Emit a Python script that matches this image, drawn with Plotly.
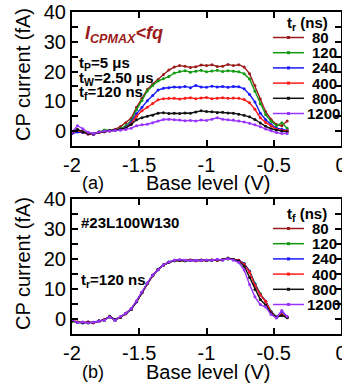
import plotly.graph_objects as go

# ---------------- data ----------------
X = [-2.00, -1.96, -1.92, -1.88, -1.84, -1.80, -1.76, -1.72, -1.68, -1.64,
     -1.60, -1.56, -1.52, -1.48, -1.44, -1.40, -1.36, -1.32, -1.28, -1.24,
     -1.20, -1.16, -1.12, -1.08, -1.04, -1.00, -0.96, -0.92, -0.88, -0.84,
     -0.80, -0.76, -0.72, -0.68, -0.64, -0.60, -0.56, -0.52, -0.48, -0.44,
     -0.40]

SERIES_NAMES = ["80", "120", "240", "400", "800", "1200"]
COLORS = ["#9b1b1b", "#119911", "#1a1aff", "#ff1a1a", "#111111", "#9933ff"]

# (a) rise time varied, tf = 120 ns
TOP_80 = [-0.8, 0.3, -0.2, -0.9, -1.0, -0.3, 0.0, 0.2, 0.6, 1.5,
          2.8, 4.3, 8.0, 11.0, 14.0, 15.8, 17.3, 19.0, 20.5, 21.5,
          22.0, 21.8, 21.4, 21.6, 22.2, 22.0, 22.3, 21.7, 21.8, 22.4,
          22.0, 22.3, 21.5, 19.3, 15.3, 10.8, 6.5, 3.9, 2.2, 1.8,
          3.4]
TOP_120 = [-0.5, 0.0, -0.3, -0.8, -1.0, -0.2, 0.4, 0.3, 0.2, 0.8,
           1.8, 3.5, 7.2, 10.3, 13.5, 15.3, 16.8, 17.6, 18.3, 19.5,
           20.0, 20.3, 19.8, 20.1, 20.4, 19.9, 20.2, 20.4, 20.0, 20.3,
           20.1, 19.9, 19.3, 17.5, 13.4, 9.2, 5.5, 3.3, 1.8, 2.8,
           1.0]
TOP_240 = [-0.8, -0.3, -0.5, -1.0, -1.1, -0.4, -0.1, 0.1, 0.2, 0.5,
           1.2, 3.0, 5.8, 8.0, 10.2, 12.0, 13.8, 14.4, 14.6, 14.8,
           14.7, 15.0, 14.6, 15.3, 14.8, 14.7, 15.1, 14.8, 15.0, 14.7,
           15.0, 14.9, 14.2, 12.3, 9.8, 6.0, 3.8, 2.2, 1.0, 0.6,
           0.2]
TOP_400 = [-0.5, 0.2, -0.3, -1.0, -1.0, -0.5, -0.2, 0.0, 0.2, 0.5,
           1.0, 2.5, 5.0, 6.8, 8.0, 9.3, 10.5, 10.9, 11.0, 11.0,
           10.8, 11.0, 11.2, 10.9, 11.1, 11.3, 10.9, 11.0, 11.2, 11.0,
           11.1, 11.0, 10.6, 9.5, 7.3, 4.5, 2.9, 1.8, 0.6, 0.2,
           0.1]
TOP_800 = [-0.3, 0.6, -0.2, -0.8, -0.9, -0.4, -0.2, 0.1, 0.3, 0.6,
           1.0, 2.2, 3.8, 4.5, 5.0, 5.3, 6.0, 6.2, 5.9, 6.0,
           5.9, 6.1, 6.0, 6.4, 6.8, 6.6, 6.5, 6.2, 6.3, 6.1,
           6.0, 5.7, 5.3, 4.8, 3.9, 2.7, 1.6, 0.8, 0.3, 0.0,
           -0.2]
TOP_1200 = [-0.3, 1.8, 0.8, -0.4, -0.8, -0.3, 0.0, 0.0, 0.2, 0.3,
            0.5, 1.0, 1.8, 2.1, 2.3, 2.8, 3.4, 3.9, 4.0, 3.8,
            3.7, 3.5, 3.6, 3.4, 3.7, 3.6, 4.0, 4.5, 4.0, 3.8,
            3.7, 3.4, 3.1, 2.6, 2.1, 1.5, 0.7, 0.1, -0.5, -0.8,
            -0.8]

# (b) fall time varied, tr = 120 ns
BOT_80 = [-0.6, -1.0, -1.2, -1.1, -1.2, -0.7, -0.3, 0.7, -0.3, 0.6,
          1.7, 3.2, 5.8, 8.8, 11.8, 14.5, 16.5, 18.0, 18.9, 19.5,
          19.6, 19.5, 19.7, 19.4, 19.6, 19.5, 19.7, 19.6, 19.8, 20.1,
          19.8, 19.6, 18.4, 15.8, 11.6, 8.3, 5.9, 2.4, 0.7, 1.4,
          0.5]
BOT_120 = [-0.8, -1.2, -1.1, -1.3, -1.1, -0.8, -0.4, 0.6, -0.4, 0.5,
           1.8, 3.3, 5.9, 8.7, 12.0, 14.4, 16.6, 17.9, 19.0, 19.4,
           19.5, 19.3, 19.6, 19.5, 19.4, 19.6, 19.5, 19.7, 19.7, 20.0,
           19.9, 19.5, 18.5, 16.0, 11.8, 8.4, 5.8, 2.5, 0.8, 1.3,
           0.6]
BOT_240 = [-0.5, -1.1, -1.3, -1.0, -1.2, -0.6, -0.3, 0.8, -0.2, 0.7,
           1.8, 3.4, 5.7, 8.9, 11.9, 14.6, 16.4, 18.1, 18.9, 19.6,
           19.7, 19.5, 19.6, 19.5, 19.7, 19.5, 19.6, 19.8, 19.7, 20.2,
           19.8, 19.6, 18.4, 15.9, 11.5, 8.1, 5.9, 2.3, 0.6, 2.6,
           0.7]
BOT_400 = [-0.4, -1.0, -1.2, -1.0, -1.3, -0.7, -0.2, 0.8, -0.3, 0.6,
           1.8, 3.3, 5.8, 8.8, 11.9, 14.5, 16.5, 18.0, 18.9, 19.5,
           19.6, 19.5, 19.7, 19.4, 19.6, 19.5, 19.7, 19.6, 19.8, 20.2,
           19.8, 19.5, 18.2, 15.6, 11.2, 8.0, 5.8, 2.2, 0.6, 1.5,
           0.5]
BOT_800 = [-0.6, -1.1, -1.2, -1.1, -1.2, -0.7, -0.3, 0.9, -0.3, 0.6,
           1.9, 3.2, 5.8, 8.8, 11.8, 14.6, 16.6, 18.0, 18.9, 19.4,
           19.6, 19.5, 19.6, 19.5, 19.6, 19.5, 19.6, 19.7, 19.8, 20.3,
           19.8, 19.3, 17.6, 13.8, 9.8, 6.5, 4.7, 2.0, 0.5, 1.2,
           0.4]
BOT_1200 = [-0.2, -1.2, -1.0, -1.3, -1.1, -0.8, -0.4, 0.7, -0.5, 0.8,
            1.9, 3.4, 6.0, 9.0, 12.0, 14.7, 16.4, 18.0, 19.0, 19.6,
            19.8, 19.6, 19.5, 19.6, 19.5, 19.7, 19.6, 19.9, 19.7, 20.1,
            19.6, 18.8, 16.3, 11.5, 7.4, 4.8, 4.0, 1.5, 0.3, 2.8,
            0.8]

TOP_SERIES = [TOP_80, TOP_120, TOP_240, TOP_400, TOP_800, TOP_1200]
BOT_SERIES = [BOT_80, BOT_120, BOT_240, BOT_400, BOT_800, BOT_1200]

X_TICKS = [-2, -1.5, -1, -0.5, 0]
X_TICKLABELS = ["-2", "-1.5", "-1", "-0.5", "0"]
Y_TICKS = [0, 10, 20, 30, 40]
Y_TICKLABELS = ["0", "10", "20", "30", "40"]

X_TITLE = "Base level (V)"
Y_TITLE = "CP current (fA)"

# ---------------- layout geometry ----------------
W, H = 342, 384
L, R, T, B = 72, 1, 12, 50
PW = W - L - R
PH = H - T - B
FONT = "Liberation Sans, Arial, sans-serif"


def px(x):
    return (x - L) / PW


def py(y):
    return (H - B - y) / PH


top_dom = [py(146), 1.0]
bot_dom = [0.0, py(199)]

fig = go.Figure()

for name, col, ys in zip(SERIES_NAMES, COLORS, TOP_SERIES):
    fig.add_trace(go.Scatter(x=X, y=ys, name=name, mode="lines+markers",
                             line=dict(color=col, width=1.4),
                             marker=dict(color=col, size=3),
                             xaxis="x", yaxis="y", showlegend=False))
for name, col, ys in zip(SERIES_NAMES, COLORS, BOT_SERIES):
    fig.add_trace(go.Scatter(x=X, y=ys, name=name, mode="lines+markers",
                             line=dict(color=col, width=1.4),
                             marker=dict(color=col, size=3),
                             xaxis="x2", yaxis="y2", showlegend=False))

axis_common = dict(showline=True, linewidth=2, linecolor="black", mirror="allticks",
                   ticks="inside", ticklen=6, tickwidth=1.5, tickcolor="black",
                   showgrid=False, zeroline=False, automargin=False,
                   ticklabeloverflow="allow",
                   tickfont=dict(family=FONT, size=20, color="black"))

xax = dict(axis_common, range=[-2, 0], tickmode="array", tickvals=X_TICKS,
           ticktext=X_TICKLABELS)
yax = dict(axis_common, range=[-5, 40], tickmode="array", tickvals=Y_TICKS,
           ticktext=Y_TICKLABELS,
           minor=dict(dtick=5, ticks="inside", ticklen=6, tickwidth=1.5,
                      tickcolor="black", showgrid=False))

fig.update_layout(
    width=W, height=H,
    margin=dict(l=L, r=R, t=T, b=B, pad=0),
    paper_bgcolor="white", plot_bgcolor="white",
    showlegend=False,
    font=dict(family=FONT, color="black"),
    xaxis=dict(xax, domain=[0, 1], anchor="y"),
    yaxis=dict(yax, domain=top_dom, anchor="x"),
    xaxis2=dict(xax, domain=[0, 1], anchor="y2"),
    yaxis2=dict(yax, domain=bot_dom, anchor="x2"),
)

ann = []


def text(x, y, s, size, color="black", xanchor="center", angle=0):
    ann.append(dict(x=px(x), y=py(y), xref="paper", yref="paper", text=s,
                    showarrow=False, xanchor=xanchor, yanchor="middle",
                    textangle=angle,
                    font=dict(family=FONT, size=size, color=color)))


for off, lab in ((0, "(a)"), (189, "(b)")):
    text(208, 183 + off, X_TITLE, 20)
    text(93, 183 + off, lab, 18)
    text(23, 75 + off, Y_TITLE, 20, angle=-90)

text(83, 35, "<b><i>I<sub>CPMAX</sub>&lt;fq</i></b>", 18, color="#9b1b1b", xanchor="left")
text(77, 64, "<b>t<sub>P</sub>=5 μs</b>", 15, xanchor="left")
text(77, 78, "<b>t<sub>W</sub>=2.50 μs</b>", 15, xanchor="left")
text(77, 92, "<b>t<sub>f</sub>=120 ns</b>", 15, xanchor="left")

text(79, 222, "<b>#23L100W130</b>", 15, xanchor="left")
text(79, 280, "<b>t<sub>r</sub>=120 ns</b>", 15, xanchor="left")

# manual legends
shapes = []
for off, head in ((0, "<b>t<sub>r</sub> (ns)</b>"), (191, "<b>t<sub>f</sub> (ns)</b>")):
    text(307, 23 + off, head, 15)
    for i, (name, col) in enumerate(zip(SERIES_NAMES, COLORS)):
        yy = 37.5 + 15.2 * i + off
        shapes.append(dict(type="line", xref="paper", yref="paper",
                           x0=px(273), x1=px(304), y0=py(yy), y1=py(yy),
                           line=dict(color=col, width=1.5)))
        shapes.append(dict(type="rect", xref="paper", yref="paper",
                           x0=px(287), x1=px(290), y0=py(yy - 1.5), y1=py(yy + 1.5),
                           line=dict(width=0), fillcolor=col))
        text(305 if len(name) == 4 else 310, yy, "<b>" + name + "</b>", 15, xanchor="left")

fig.update_layout(annotations=ann, shapes=shapes)
fig.write_html("out.html",
               config={"displayModeBar": False},
               post_script="document.body.style.margin='0';"
                           "document.body.style.overflow='hidden';")
